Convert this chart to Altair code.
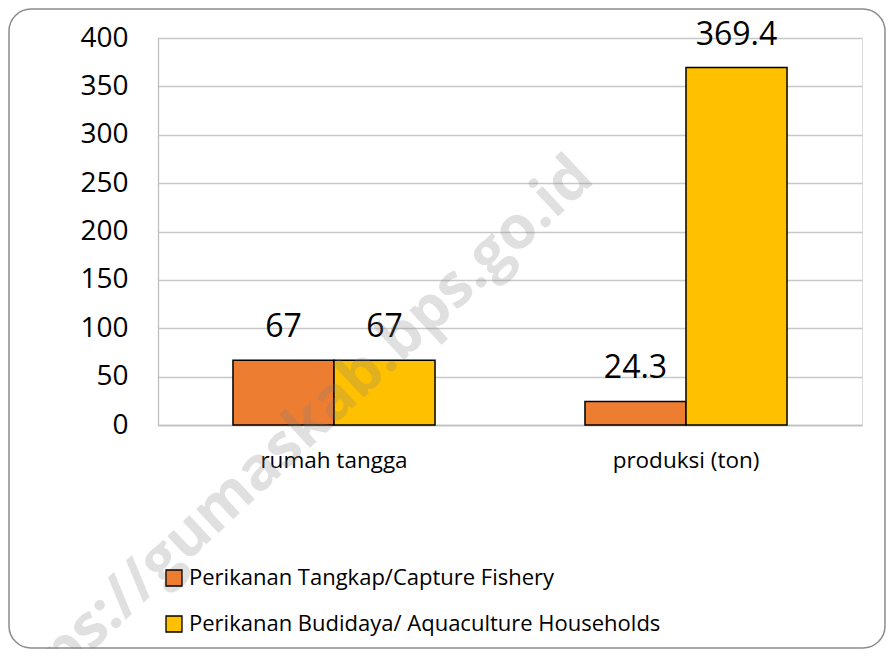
import altair as alt
import pandas as pd

categories = ["rumah tangga", "produksi (ton)"]
series = ["Perikanan Tangkap/Capture Fishery", "Perikanan Budidaya/ Aquaculture Households"]
tangkap = [67, 24.3]
budidaya = [67, 369.4]
labels_tangkap = ["67", "24.3"]
labels_budidaya = ["67", "369.4"]
colors = ["#ED7D31", "#FFC000"]
y_ticks = [0, 50, 100, 150, 200, 250, 300, 350, 400]

rows = []
for i, c in enumerate(categories):
    rows.append({"cat": c, "series": series[0], "value": tangkap[i], "label": labels_tangkap[i]})
    rows.append({"cat": c, "series": series[1], "value": budidaya[i], "label": labels_budidaya[i]})
df = pd.DataFrame(rows)

FONT = "Open Sans"

x_enc = alt.X("cat:N", sort=categories, title=None,
              scale=alt.Scale(paddingInner=0.426, paddingOuter=0.213),
              axis=alt.Axis(labelAngle=0, labelFontSize=22.5, labelFont=FONT, labelColor="#000000",
                            labelPadding=24, ticks=False, domain=True, domainColor="#bfbfbf",
                            domainWidth=1.3))
xoff = alt.XOffset("series:N", sort=series, scale=alt.Scale(paddingInner=0, paddingOuter=0))

bars = alt.Chart(df).mark_bar(stroke="#000000", strokeWidth=1.5).encode(
    x=x_enc,
    xOffset=xoff,
    y=alt.Y("value:Q", title=None,
            scale=alt.Scale(domain=[0, 400], nice=False),
            axis=alt.Axis(values=y_ticks, labelFontSize=28, labelFont=FONT, labelColor="#000000",
                          labelPadding=30, ticks=False, domain=True, domainColor="#bfbfbf",
                          domainWidth=1.3, grid=True, gridColor="#c8c8c8", gridWidth=1.3)),
    color=alt.Color("series:N", sort=series,
                    scale=alt.Scale(domain=series, range=colors),
                    legend=alt.Legend(title=None, orient="none", legendX=5, legendY=529,
                                      direction="vertical", symbolType="square", symbolSize=256,
                                      symbolStrokeColor="#000000", symbolStrokeWidth=1.3,
                                      labelFontSize=22, labelFont=FONT, labelColor="#000000",
                                      rowPadding=24, labelOffset=4, labelLimit=700)),
)

text = alt.Chart(df).mark_text(baseline="alphabetic", dy=-23, fontSize=32, font=FONT, color="#000000").encode(
    x=alt.X("cat:N", sort=categories),
    xOffset=xoff,
    y=alt.Y("value:Q"),
    text="label:N",
)

frame_df = pd.DataFrame({"k": [0]})
frame = alt.Chart(frame_df).mark_rect(fill=None, fillOpacity=0, stroke="#8c8c8c", strokeWidth=1.5,
                                      cornerRadius=22).encode(
    x=alt.value(-149), x2=alt.value(727), y=alt.value(-29), y2=alt.value(610)
)

wm = alt.Chart(frame_df).mark_text(text="https://gumaskab.bps.go.id", font=FONT, fontWeight="bold",
                                   fontSize=60, angle=317, align="right", baseline="alphabetic",
                                   color="#808080", opacity=0.24).encode(
    x=alt.value(438), y=alt.value(143)
)

chart = alt.layer(frame, bars, text, wm).properties(
    width=704, height=387,
    autosize=alt.AutoSizeParams(type="none"),
    padding={"left": 150, "top": 30, "right": 25, "bottom": 224},
).configure_view(stroke=None).configure(background="#ffffff")

chart.save("out.html", embed_options={"renderer": "svg", "actions": False})
